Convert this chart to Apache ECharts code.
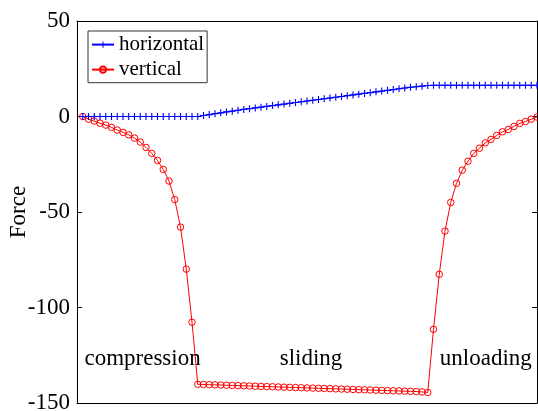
<!DOCTYPE html>
<html>
<head>
<meta charset="utf-8">
<script src="https://cdn.jsdelivr.net/npm/echarts@6/dist/echarts.min.js"></script>
<style>
  html, body { margin: 0; padding: 0; background: #fff; }
  #chart { width: 538px; height: 411px; }
</style>
</head>
<body>
<div id="chart"></div>
<script>
// Load step index (x) for each sample
const steps = Array.from({ length: 80 }, (_, i) => i);

// Horizontal force: zero during compression, ramps while sliding, holds during unloading
const horizontal = [
  0, 0, 0, 0, 0, 0, 0, 0, 0, 0,
  0, 0, 0, 0, 0, 0, 0, 0, 0, 0,
  0,
  0.5, 1.0, 1.5, 1.9, 2.4, 2.8, 3.3, 3.7, 4.1, 4.5,
  4.9, 5.3, 5.7, 6.1, 6.5, 6.9, 7.3, 7.7, 8.1, 8.5,
  8.9, 9.3, 9.7, 10.1, 10.5, 10.9, 11.3, 11.7, 12.1, 12.5,
  12.9, 13.3, 13.7, 14.1, 14.5, 14.9, 15.3, 15.6, 15.9, 16.2,
  16.3, 16.3, 16.3, 16.3, 16.3, 16.3, 16.3, 16.3, 16.3, 16.3,
  16.3, 16.3, 16.3, 16.3, 16.3, 16.3, 16.3, 16.3, 16.3
];

// Vertical force
const vertical = [
  0, -1.4, -2.4, -3.5, -4.5, -5.7, -7.1, -8.3, -9.6, -11.3,
  -13.4, -16.2, -19.3, -23.0, -27.7, -33.8, -43.5, -57.9, -79.9, -107.7,
  -140.2,
  -140.3, -140.4, -140.5, -140.6, -140.7, -140.8, -140.9, -141.0, -141.1, -141.2,
  -141.3, -141.4, -141.5, -141.6, -141.7, -141.8, -141.9, -142.0, -142.1, -142.2,
  -142.3, -142.4, -142.5, -142.6, -142.7, -142.8, -142.9, -143.0, -143.1, -143.2,
  -143.3, -143.4, -143.5, -143.6, -143.7, -143.8, -143.9, -144.0, -144.2,
  -144.5,
  -111.4, -82.6, -60.0, -45.0, -35.0, -28.1, -23.4, -19.3, -16.6, -13.8,
  -12.0, -9.9, -8.0, -6.8, -5.2, -3.6, -2.6, -1.4, -0.3
];

// Y axis ticks
const yTicks = [-150, -100, -50, 0, 50];

// Phase annotations (text, step, force)
const phaseNames = ['compression', 'sliding', 'unloading'];
const phaseStep = [10.4, 39.7, 70.1];
const phaseForce = [-127.2, -127.2, -127.2];

const FONT = '"Liberation Serif", "Times New Roman", serif';
const plusPath = 'path://M4.2,0H5.8V4.2H10V5.8H5.8V10H4.2V5.8H0V4.2H4.2Z';

const chart = echarts.init(document.getElementById('chart'), null, { renderer: 'canvas' });

const axisLineStyle = { color: '#000', width: 1 };

const option = {
  animation: false,
  backgroundColor: '#fff',
  grid: { left: 77, right: 1, top: 21, bottom: 8, containLabel: false, outerBoundsMode: 'none' },
  legend: {
    orient: 'vertical',
    left: 88,
    top: 31,
    padding: [3.1, 3, 2.6, 3],
    itemWidth: 22,
    itemHeight: 8,
    itemGap: 4,
    borderColor: '#333',
    borderWidth: 1,
    backgroundColor: '#fff',
    textStyle: { fontFamily: FONT, fontSize: 21, color: '#000' },
    data: ['horizontal', 'vertical']
  },
  xAxis: [
    {
      type: 'value', min: -1, max: 79, position: 'bottom',
      axisLine: { show: true, onZero: false, lineStyle: axisLineStyle },
      axisTick: { show: false }, axisLabel: { show: false }, splitLine: { show: false }
    },
    {
      type: 'value', min: -1, max: 79, position: 'top',
      axisLine: { show: true, onZero: false, lineStyle: axisLineStyle },
      axisTick: { show: false }, axisLabel: { show: false }, splitLine: { show: false }
    }
  ],
  yAxis: [
    {
      type: 'value', min: yTicks[0], max: yTicks[yTicks.length - 1], interval: 50,
      position: 'left',
      name: 'Force', nameLocation: 'middle', nameGap: 47, nameRotate: 90,
      nameMoveOverlap: false,
      nameTextStyle: { fontFamily: FONT, fontSize: 23, color: '#000' },
      axisLine: { show: true, onZero: false, lineStyle: axisLineStyle },
      axisTick: { show: true, inside: true, length: 5, lineStyle: axisLineStyle },
      axisLabel: { fontFamily: FONT, fontSize: 23, color: '#000', margin: 7,
        formatter: v => String(v).replace('\u2212', '-') },
      splitLine: { show: false }
    },
    {
      type: 'value', min: yTicks[0], max: yTicks[yTicks.length - 1], interval: 50,
      position: 'right',
      axisLine: { show: true, onZero: false, lineStyle: axisLineStyle },
      axisTick: { show: true, inside: true, length: 5, lineStyle: axisLineStyle },
      axisLabel: { show: false },
      splitLine: { show: false }
    }
  ],
  series: [
    {
      name: 'horizontal',
      type: 'line',
      data: steps.map((s, i) => [s, horizontal[i]]),
      symbol: plusPath,
      symbolSize: 7,
      showAllSymbol: true,
      lineStyle: { color: '#0000ff', width: 1 },
      itemStyle: { color: '#0000ff' },
      z: 3
    },
    {
      name: 'vertical',
      type: 'line',
      data: steps.map((s, i) => [s, vertical[i]]),
      symbol: 'circle',
      symbolSize: 6.5,
      showAllSymbol: true,
      lineStyle: { color: '#ff0000', width: 1 },
      itemStyle: { color: 'rgba(255,255,255,0)', borderColor: '#ff0000', borderWidth: 1 },
      z: 2
    }
  ]
};

chart.setOption(option);

// Phase labels placed in data coordinates
const notes = phaseNames.map((txt, i) => {
  const p = chart.convertToPixel({ xAxisIndex: 0, yAxisIndex: 0 }, [phaseStep[i], phaseForce[i]]);
  return {
    type: 'text',
    x: p[0], y: p[1],
    z: 10,
    style: {
      text: txt,
      fontFamily: FONT, fontSize: 23, fill: '#000',
      align: 'center', verticalAlign: 'middle'
    }
  };
});
chart.setOption({ graphic: notes });
</script>
</body>
</html>
